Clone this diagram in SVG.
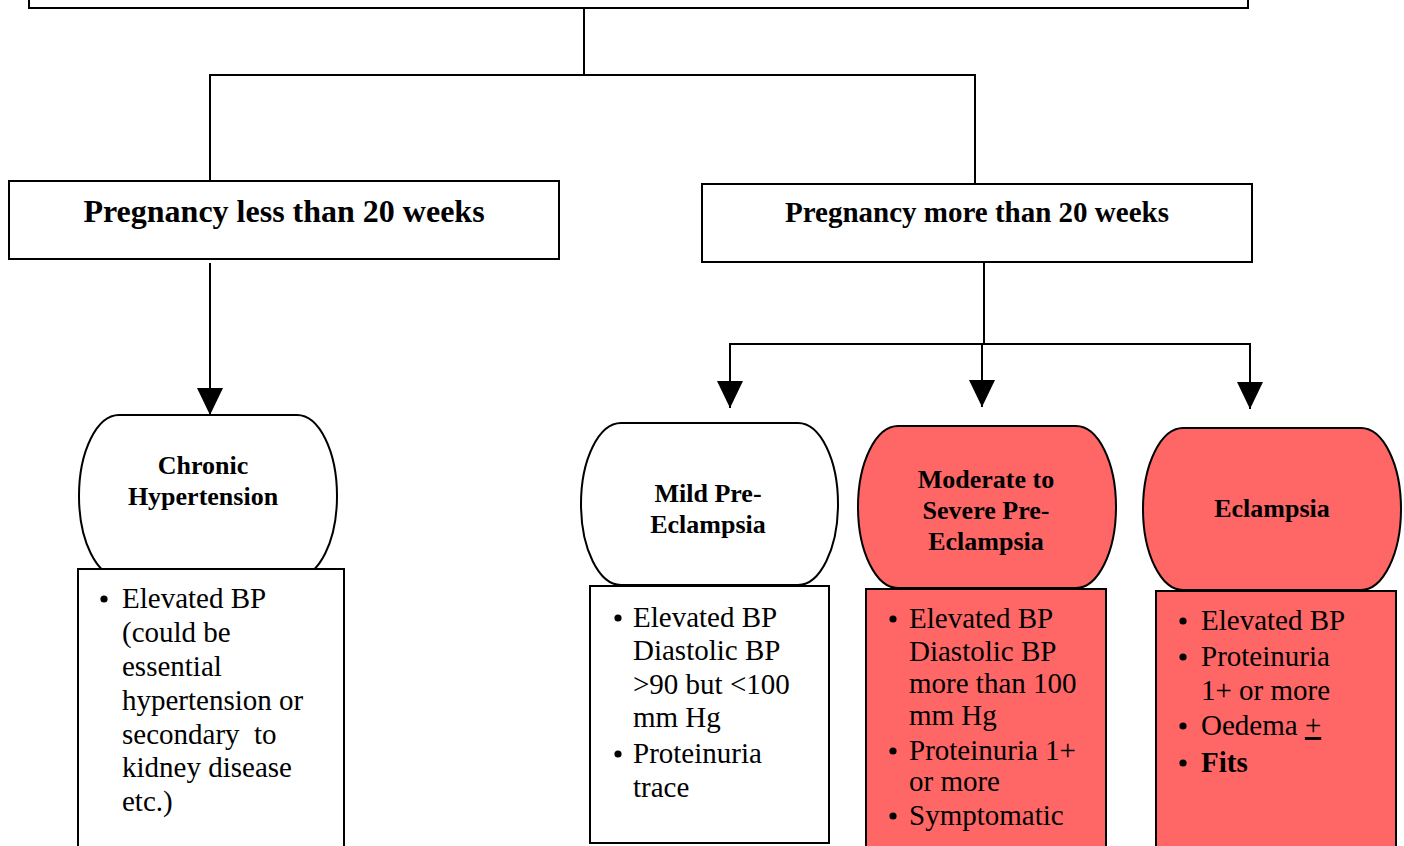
<svg xmlns="http://www.w3.org/2000/svg" width="1404" height="846" viewBox="0 0 1404 846">
  <defs>
    <style>
      .box { fill: #ffffff; stroke: #000000; stroke-width: 2; }
      .red { fill: #ff6666; }
      .wire { fill: none; stroke: #000000; stroke-width: 2; }
      .title { font-family: "Liberation Serif", "Times New Roman", serif; font-weight: bold; fill: #000; }
      .head { font-family: "Liberation Serif", "Times New Roman", serif; font-weight: bold; font-size: 26px; fill: #000; text-anchor: middle; }
      .body { font-family: "Liberation Serif", "Times New Roman", serif; font-size: 29px; fill: #000; }
    </style>
    <!-- solid triangular arrowhead, tip at the end of the line -->
    <marker id="arrow" viewBox="0 0 27 26" refX="27" refY="13" markerWidth="27" markerHeight="26" markerUnits="userSpaceOnUse" orient="auto">
      <path d="M0,0 L27,13 L0,26 Z" fill="#000"/>
    </marker>
  </defs>

  <rect width="1404" height="846" fill="#ffffff"/>

  <!-- connectors -->
  <g id="connectors">
    <path class="wire" d="M584,8 V76"/>
    <path class="wire" d="M210,181 V75 H975 V184"/>
    <path class="wire" d="M210,263 V415" marker-end="url(#arrow)"/>
    <path class="wire" d="M984,262 V344"/>
    <path class="wire" d="M730,400 V344 H1250 V400"/>
    <path class="wire" d="M730,381 V408" marker-end="url(#arrow)"/>
    <path class="wire" d="M1250,381 V409" marker-end="url(#arrow)"/>
    <path class="wire" d="M982,344 V407" marker-end="url(#arrow)"/>
  </g>

  <!-- root box (top edge runs off the page) -->
  <g id="root">
    <rect class="box" x="29" y="-20" width="1219" height="28"/>
  </g>

  <g id="less20">
    <rect class="box" x="9" y="181" width="550" height="78"/>
    <text class="title" x="284" y="222" font-size="32" text-anchor="middle">Pregnancy less than 20 weeks</text>
  </g>

  <g id="more20">
    <rect class="box" x="702" y="184" width="550" height="78"/>
    <text class="title" x="977" y="222" font-size="29" text-anchor="middle">Pregnancy more than 20 weeks</text>
  </g>

  <!-- Chronic hypertension -->
  <g id="chronic">
    <rect class="box" x="79" y="415" width="258" height="162" rx="40" ry="81"/>
    <text class="head" x="203" y="474">Chronic</text>
    <text class="head" x="203" y="505">Hypertension</text>
  </g>
  <g id="chronic-signs">
    <rect class="box" x="78" y="569" width="266" height="290"/>
    <circle cx="104" cy="599" r="3.6"/>
    <text class="body" x="122" y="608">Elevated BP</text>
    <text class="body" x="122" y="642">(could be</text>
    <text class="body" x="122" y="676">essential</text>
    <text class="body" x="122" y="710">hypertension or</text>
    <text class="body" x="122" y="744" xml:space="preserve">secondary  to</text>
    <text class="body" x="122" y="777">kidney disease</text>
    <text class="body" x="122" y="811">etc.)</text>
  </g>

  <!-- Mild pre-eclampsia -->
  <g id="mild">
    <rect class="box" x="581" y="423" width="257" height="162" rx="40" ry="81"/>
    <text class="head" x="708" y="502">Mild Pre-</text>
    <text class="head" x="708" y="533">Eclampsia</text>
  </g>
  <g id="mild-signs">
    <rect class="box" x="590" y="586" width="239" height="257"/>
    <circle cx="618" cy="618" r="3.6"/>
    <text class="body" x="633" y="627">Elevated BP</text>
    <text class="body" x="633" y="660">Diastolic BP</text>
    <text class="body" x="633" y="694">&gt;90 but &lt;100</text>
    <text class="body" x="633" y="727">mm Hg</text>
    <circle cx="618" cy="754" r="3.6"/>
    <text class="body" x="633" y="763">Proteinuria</text>
    <text class="body" x="633" y="797">trace</text>
  </g>

  <!-- Moderate to severe pre-eclampsia -->
  <g id="moderate">
    <rect class="box red" x="858" y="426" width="258" height="162" rx="40" ry="81"/>
    <text class="head" x="986" y="488">Moderate to</text>
    <text class="head" x="986" y="519">Severe Pre-</text>
    <text class="head" x="986" y="550">Eclampsia</text>
  </g>
  <g id="moderate-signs">
    <rect class="box red" x="866" y="589" width="240" height="270"/>
    <circle cx="893" cy="619" r="3.6"/>
    <text class="body" x="909" y="628">Elevated BP</text>
    <text class="body" x="909" y="661">Diastolic BP</text>
    <text class="body" x="909" y="693">more than 100</text>
    <text class="body" x="909" y="725">mm Hg</text>
    <circle cx="893" cy="751" r="3.6"/>
    <text class="body" x="909" y="760">Proteinuria 1+</text>
    <text class="body" x="909" y="791">or more</text>
    <circle cx="893" cy="816" r="3.6"/>
    <text class="body" x="909" y="825">Symptomatic</text>
  </g>

  <!-- Eclampsia -->
  <g id="eclampsia">
    <rect class="box red" x="1143" y="428" width="258" height="162" rx="40" ry="81"/>
    <text class="head" x="1272" y="517" font-size="29">Eclampsia</text>
  </g>
  <g id="eclampsia-signs">
    <rect class="box red" x="1156" y="591" width="240" height="270"/>
    <circle cx="1183" cy="621" r="3.6"/>
    <text class="body" x="1201" y="630">Elevated BP</text>
    <circle cx="1183" cy="657" r="3.6"/>
    <text class="body" x="1201" y="666">Proteinuria</text>
    <text class="body" x="1201" y="700">1+ or more</text>
    <circle cx="1183" cy="726" r="3.6"/>
    <text class="body" x="1201" y="735">Oedema <tspan text-decoration="underline">+</tspan></text>
    <circle cx="1183" cy="763" r="3.6"/>
    <text class="body" x="1201" y="772" font-weight="bold">Fits</text>
  </g>
</svg>
